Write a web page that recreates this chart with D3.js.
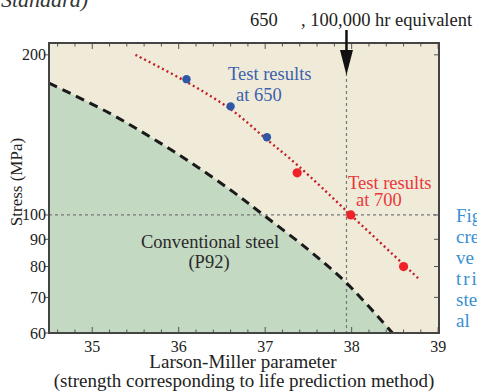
<!DOCTYPE html>
<html lang="en">
<head>
<meta charset="UTF-8">
<title>Larson-Miller parameter vs stress</title>
<script src="https://d3js.org/d3.v7.min.js"></script>
<style>
    body { margin: 0; background: #fff; }
    svg text { font-family: "Liberation Serif", "Times New Roman", serif; }
</style>
</head>
<body>
<div id="chart"></div>
<script>
// data
var xTicks = [35, 36, 37, 38, 39];
var yTicks = [60, 70, 80, 90, 100, 200];

// conventional steel (P92) boundary, [LMP, stress]
var p92LMP =    [34.50, 35.17, 35.67, 36.13, 36.63, 36.98, 37.50, 37.94, 38.50];
var p92Stress = [177.0, 156.3, 140.2, 125.8, 110.5, 100.0, 86.0, 74.5, 59.3];

// master curve through the test results (red dotted)
var fitLMP =    [35.50, 36.09, 36.61, 37.02, 37.37, 37.99, 38.79];
var fitStress = [200, 177.9, 157.6, 138.6, 124.2, 100, 75.5];

var test650LMP = [36.09, 36.60, 37.02];
var test650Stress = [180, 160, 140];
var test700LMP = [37.37, 37.99, 38.60];
var test700Stress = [120, 100, 80];

var markLMP = 37.94;   // 650, 100,000 hr equivalent
var markStress = 100;

var W = 477, H = 391;
var pL = 49, pR = 439, pT = 43, pB = 333;

var svg = d3.select("#chart").append("svg")
    .attr("width", W).attr("height", H);

var x = d3.scaleLinear().domain([34.5, 39.01]).range([pL, pR]);
var y = d3.scaleLog().domain([60, 210.5]).range([pB, pT]);

svg.append("defs").append("clipPath").attr("id", "plotclip")
    .append("rect").attr("x", pL).attr("y", pT)
    .attr("width", pR - pL).attr("height", pB - pT);

// background
svg.append("rect")
    .attr("x", pL).attr("y", pT)
    .attr("width", pR - pL).attr("height", pB - pT)
    .style("fill", "#efebd8");

var plot = svg.append("g").attr("clip-path", "url(#plotclip)");

var p92 = p92LMP.map(function(d, i) { return [d, p92Stress[i]]; });
var fit = fitLMP.map(function(d, i) { return [d, fitStress[i]]; });

plot.append("path")
    .datum(p92)
    .attr("d", d3.area()
        .x(function(d) { return x(d[0]); })
        .y0(y(60) + 5)
        .y1(function(d) { return y(d[1]); })
        .curve(d3.curveCatmullRom))
    .style("fill", "#c3d9c2");

// guide lines
plot.append("line")
    .attr("x1", pL).attr("x2", pR)
    .attr("y1", y(markStress)).attr("y2", y(markStress))
    .style("stroke", "#777").style("stroke-width", 1.2)
    .style("stroke-dasharray", "3,3");

plot.append("line")
    .attr("x1", x(markLMP)).attr("x2", x(markLMP))
    .attr("y1", pT).attr("y2", pB)
    .style("stroke", "#777").style("stroke-width", 1.2)
    .style("stroke-dasharray", "3,3");

// P92 dashed curve
plot.append("path")
    .datum(p92)
    .attr("d", d3.line()
        .x(function(d) { return x(d[0]); })
        .y(function(d) { return y(d[1]); })
        .curve(d3.curveCatmullRom))
    .style("fill", "none")
    .style("stroke", "#1a1a1a")
    .style("stroke-width", 3)
    .style("stroke-dasharray", "9,6");

// master curve
plot.append("path")
    .datum(fit)
    .attr("d", d3.line()
        .x(function(d) { return x(d[0]); })
        .y(function(d) { return y(d[1]); })
        .curve(d3.curveCatmullRom))
    .style("fill", "none")
    .style("stroke", "#c0202a")
    .style("stroke-width", 2.4)
    .style("stroke-dasharray", "2,3");

plot.selectAll(".p650")
    .data(test650LMP).enter().append("circle")
    .attr("cx", function(d) { return x(d); })
    .attr("cy", function(d, i) { return y(test650Stress[i]); })
    .attr("r", 4.2)
    .style("fill", "#2f57a6");

plot.selectAll(".p700")
    .data(test700LMP).enter().append("circle")
    .attr("cx", function(d) { return x(d); })
    .attr("cy", function(d, i) { return y(test700Stress[i]); })
    .attr("r", 4.6)
    .style("fill", "#ee2228");

// ticks
var tickG = svg.append("g").style("stroke", "#555").style("stroke-width", 1);
var minor = d3.range(34.6, 39.01, 0.2).filter(function(d) {
    return Math.abs(d - Math.round(d)) > 0.01;
});
xTicks.forEach(function(t) {
    tickG.append("line").attr("x1", x(t)).attr("x2", x(t)).attr("y1", pB).attr("y2", pB - 6);
    tickG.append("line").attr("x1", x(t)).attr("x2", x(t)).attr("y1", pT).attr("y2", pT + 6);
});
minor.forEach(function(t) {
    tickG.append("line").attr("x1", x(t)).attr("x2", x(t)).attr("y1", pB).attr("y2", pB - 3.5);
    tickG.append("line").attr("x1", x(t)).attr("x2", x(t)).attr("y1", pT).attr("y2", pT + 3.5);
});
yTicks.forEach(function(t) {
    tickG.append("line").attr("x1", pL - 5).attr("x2", pL).attr("y1", y(t)).attr("y2", y(t));
    tickG.append("line").attr("x1", pR - 5).attr("x2", pR).attr("y1", y(t)).attr("y2", y(t));
});

// frame
svg.append("rect")
    .attr("x", pL).attr("y", pT)
    .attr("width", pR - pL).attr("height", pB - pT)
    .style("fill", "none").style("stroke", "#444").style("stroke-width", 2);

// tick labels
svg.selectAll(".xl").data(xTicks).enter().append("text")
    .attr("x", function(d) { return x(d); })
    .attr("y", 352)
    .attr("text-anchor", "middle")
    .style("font-size", "16px").style("fill", "#222")
    .text(function(d) { return d; });

svg.selectAll(".yl").data(yTicks).enter().append("text")
    .attr("x", 46)
    .attr("y", function(d) { return y(d) + 5.5; })
    .attr("text-anchor", "end")
    .style("font-size", "16px").style("fill", "#222")
    .text(function(d) { return d; });

// axis titles
svg.append("text")
    .attr("transform", "translate(22,182) rotate(-90)")
    .attr("text-anchor", "middle")
    .style("font-size", "17px").style("fill", "#222")
    .text("Stress (MPa)");

svg.append("text")
    .attr("x", 243).attr("y", 368)
    .attr("text-anchor", "middle")
    .style("font-size", "19px").style("fill", "#222")
    .text("Larson-Miller parameter");

svg.append("text")
    .attr("x", 244).attr("y", 387)
    .attr("text-anchor", "middle")
    .style("font-size", "19px").style("fill", "#222")
    .text("(strength corresponding to life prediction method)");

// annotations
svg.append("text").attr("x", 250).attr("y", 26)
    .style("font-size", "18.5px").style("fill", "#222").text("650");
svg.append("text").attr("x", 301).attr("y", 26)
    .style("font-size", "18.5px").style("fill", "#222").text(", 100,000 hr equivalent");

svg.append("line")
    .attr("x1", x(markLMP)).attr("x2", x(markLMP))
    .attr("y1", 30).attr("y2", 55)
    .style("stroke", "#111").style("stroke-width", 2.5);
svg.append("path")
    .attr("d", "M" + (x(markLMP) - 6.5) + ",50 L" + (x(markLMP) + 6.5) + ",50 L" + x(markLMP) + ",75 Z")
    .style("fill", "#111");

svg.append("text").attr("x", 228).attr("y", 80)
    .style("font-size", "18.5px").style("fill", "#3d62ad").text("Test results");
svg.append("text").attr("x", 236).attr("y", 101)
    .style("font-size", "18.5px").style("fill", "#3d62ad").text("at 650");

svg.append("text").attr("x", 348).attr("y", 189)
    .style("font-size", "18.5px").style("fill", "#e8383c").text("Test results");
svg.append("text").attr("x", 356).attr("y", 206)
    .style("font-size", "18.5px").style("fill", "#e8383c").text("at 700");

svg.append("text").attr("x", 210).attr("y", 248)
    .attr("text-anchor", "middle")
    .style("font-size", "18.5px").style("fill", "#2a2a2a").text("Conventional steel");
svg.append("text").attr("x", 209).attr("y", 268)
    .attr("text-anchor", "middle")
    .style("font-size", "18.5px").style("fill", "#2a2a2a").text("(P92)");

// cut-off text of the surrounding page
svg.append("text").attr("x", 1).attr("y", 7)
    .style("font-size", "22px").style("font-style", "italic").style("fill", "#333")
    .text("Standard)");

var sideText = ["Fig", "cre", "ve", "tri", "ste", "al"];
svg.selectAll(".side").data(sideText).enter().append("text")
    .attr("x", 456)
    .attr("y", function(d, i) { return 222 + i * 21; })
    .style("font-size", "19px").style("fill", "#3a8fd2")
    .style("letter-spacing", function(d) { return d === "tri" ? "2px" : "0px"; })
    .text(function(d) { return d; });
</script>
</body>
</html>
